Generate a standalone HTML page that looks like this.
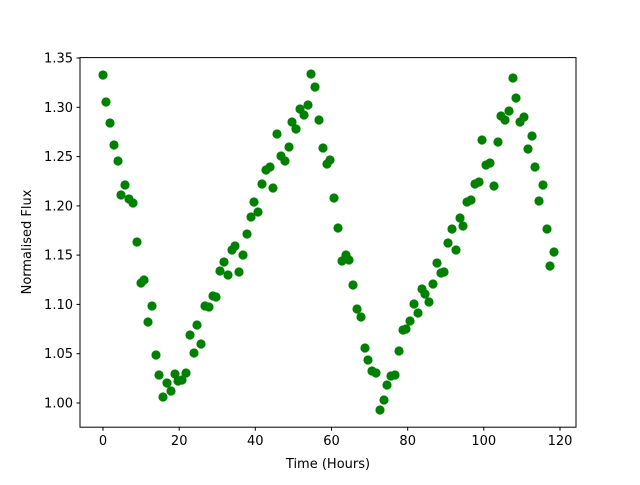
<!DOCTYPE html>
<html><head><meta charset="utf-8"><style>html,body{margin:0;padding:0;background:#fff;}svg text{font-family:"DejaVu Sans","Liberation Sans",sans-serif;font-size:13px;fill:#000;}</style></head>
<body>
<svg width="640" height="480" viewBox="0 0 640 480" xmlns="http://www.w3.org/2000/svg">
<rect width="640" height="480" fill="#fff"/>
<g fill="#008000" id="pts"></g>
<rect x="80" y="57.6" width="496" height="369.6" fill="none" stroke="#000" stroke-width="1"/>
<g stroke="#000" stroke-width="1">
<line x1="103" y1="427.2" x2="103" y2="430.7"/>
<line x1="179.2" y1="427.2" x2="179.2" y2="430.7"/>
<line x1="255.3" y1="427.2" x2="255.3" y2="430.7"/>
<line x1="331.5" y1="427.2" x2="331.5" y2="430.7"/>
<line x1="407.7" y1="427.2" x2="407.7" y2="430.7"/>
<line x1="483.8" y1="427.2" x2="483.8" y2="430.7"/>
<line x1="560" y1="427.2" x2="560" y2="430.7"/>
<line x1="76.5" y1="403" x2="80" y2="403"/>
<line x1="76.5" y1="353.7" x2="80" y2="353.7"/>
<line x1="76.5" y1="304.4" x2="80" y2="304.4"/>
<line x1="76.5" y1="255.1" x2="80" y2="255.1"/>
<line x1="76.5" y1="205.9" x2="80" y2="205.9"/>
<line x1="76.5" y1="156.6" x2="80" y2="156.6"/>
<line x1="76.5" y1="107.3" x2="80" y2="107.3"/>
<line x1="76.5" y1="58" x2="80" y2="58"/>
</g>
<g text-anchor="middle">
<text x="103" y="445">0</text><text x="179.2" y="445">20</text><text x="255.3" y="445">40</text><text x="331.5" y="445">60</text><text x="407.7" y="445">80</text><text x="483.8" y="445">100</text><text x="560" y="445">120</text>
<text x="328" y="468">Time (Hours)</text>
</g>
<g text-anchor="end">
<text x="73" y="407.5">1.00</text><text x="73" y="358.2">1.05</text><text x="73" y="308.9">1.10</text><text x="73" y="259.6">1.15</text><text x="73" y="210.4">1.20</text><text x="73" y="161.1">1.25</text><text x="73" y="111.8">1.30</text><text x="73" y="62.5">1.35</text>
</g>
<text transform="translate(31,242) rotate(-90)" text-anchor="middle">Normalised Flux</text>
</svg>
<script>
var p=[[103,75],[106,102],[110,123],[114,145],[118,161],[121,195],[125,185],[129,199],[133,203],[137,242],[141,283],[144,280],[148,322],[152,306],[156,355],[159,375],[163,397],[167,383],[171,391],[175,374],[178,381],[182,380],[186,373],[190,335],[194,353],[197,325],[201,344],[205,306],[209,307],[213,296],[216,297],[220,271],[224,262],[228,275],[232,250],[235,246],[239,272],[243,255],[247,234],[251,217],[254,202],[258,212],[262,184],[266,170],[270,167],[273,188],[277,134],[281,156],[285,161],[289,147],[292,122],[296,129],[300,109],[304,115],[308,105],[311,74],[315,87],[319,120],[323,148],[327,164],[330,160],[334,198],[338,228],[342,261],[346,255],[349,260],[353,285],[357,309],[361,317],[365,348],[368,360],[372,371],[376,373],[380,410],[384,400],[387,385],[391,376],[395,375],[399,351],[403,330],[406,329],[410,321],[414,304],[418,313],[422,289],[425,294],[429,302],[433,284],[437,263],[441,273],[444,272],[448,243],[452,229],[456,250],[460,218],[463,226],[467,202],[471,200],[475,184],[479,182],[482,140],[486,165],[490,163],[494,186],[498,142],[501,116],[505,120],[509,111],[513,78],[516,98],[520,122],[524,117],[528,149],[532,136],[535,167],[539,201],[543,185],[547,229],[550,266],[554,252]];
var g=document.getElementById('pts'),s='';
p.forEach(function(q){s+='<circle cx="'+q[0]+'" cy="'+q[1]+'" r="4.6"/>';});
g.innerHTML=s;
</script>
</body></html>
